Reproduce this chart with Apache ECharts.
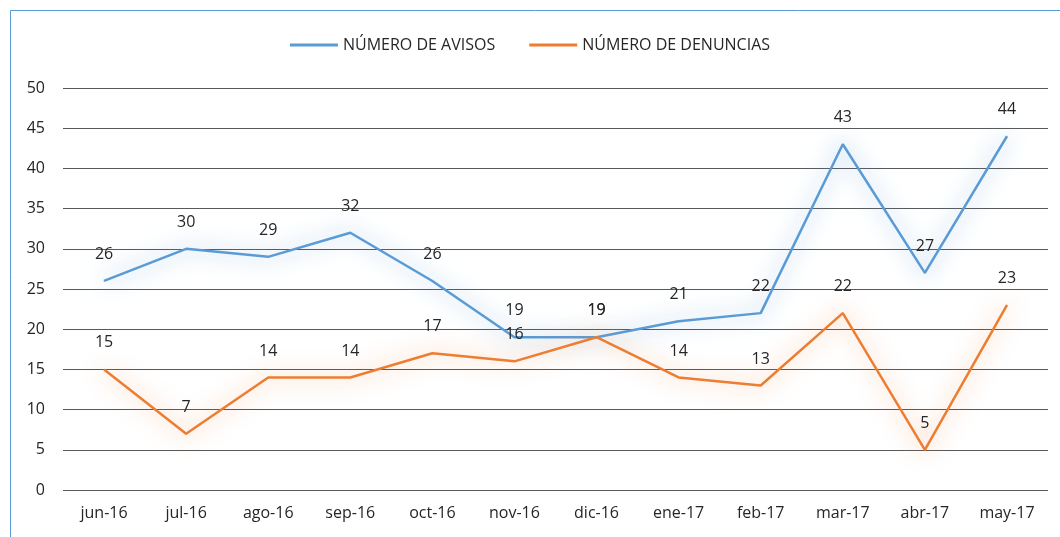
<!DOCTYPE html>
<html>
<head>
<meta charset="utf-8">
<script src="https://cdn.jsdelivr.net/npm/echarts@6/dist/echarts.min.js"></script>
<style>
	html,body{margin:0;padding:0;background:#fff;}
	#chart{width:1060px;height:537px;}
</style>
</head>
<body>
<div id="chart"></div>
<script>
	// datos
	var meses = ['jun-16','jul-16','ago-16','sep-16','oct-16','nov-16','dic-16','ene-17','feb-17','mar-17','abr-17','may-17'];
	var avisos = [26,30,29,32,26,19,19,21,22,43,27,44];
	var denuncias = [15,7,14,14,17,16,19,14,13,22,5,23];

	var fuente = 'Open Sans';
	var chart = echarts.init(document.getElementById('chart'));

	function serie(nombre, datos, color, sombra){
		return {
			name: nombre,
			type: 'line',
			data: datos,
			symbol: 'circle',
			symbolSize: 1,
			itemStyle: { color: color },
			lineStyle: {
				color: color,
				width: 2.5,
				shadowColor: sombra,
				shadowBlur: 22
			},
			label: {
				show: true,
				position: 'top',
				distance: 18,
				color: '#262626',
				fontFamily: fuente,
				fontSize: 16
			}
		};
	}

	var option = {
		animation: false,
		color: ['#5b9bd5','#ed7d31'],
		graphic: [{
			type: 'rect',
			shape: { x: 10.5, y: 10.5, width: 1200, height: 700 },
			style: { fill: 'none', stroke: '#5b9bd5', lineWidth: 1 }
		}],
		legend: {
			top: 32,
			left: 'center',
			icon: 'rect',
			itemWidth: 48,
			itemHeight: 3,
			itemGap: 34,
			textStyle: { color: '#262626', fontFamily: fuente, fontSize: 16 },
			data: ['NÚMERO DE AVISOS','NÚMERO DE DENUNCIAS']
		},
		grid: { left: 63, right: 12, top: 88, bottom: 47 },
		xAxis: {
			type: 'category',
			data: meses,
			boundaryGap: true,
			axisLine: { show: false },
			axisTick: { show: false },
			axisLabel: { color: '#262626', fontFamily: fuente, fontSize: 16, margin: 15 }
		},
		yAxis: {
			type: 'value',
			min: 0,
			max: 50,
			interval: 5,
			axisLine: { show: false },
			axisTick: { show: false },
			axisLabel: { color: '#262626', fontFamily: fuente, fontSize: 16, margin: 18 },
			splitLine: { lineStyle: { color: '#595959', width: 1.2 } }
		},
		series: [
			serie('NÚMERO DE AVISOS', avisos, '#5b9bd5', 'rgba(91,155,213,0.9)'),
			serie('NÚMERO DE DENUNCIAS', denuncias, '#ed7d31', 'rgba(237,125,49,0.8)')
		]
	};
	chart.setOption(option);
</script>
</body>
</html>
